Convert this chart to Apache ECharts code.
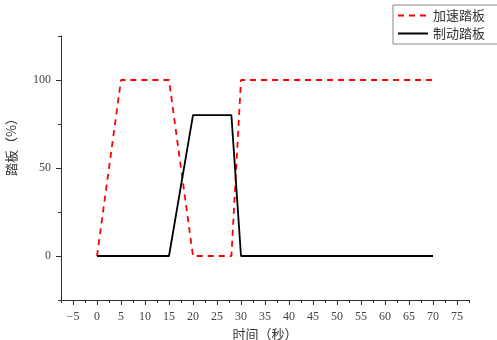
<!DOCTYPE html>
<html><head><meta charset="utf-8">
<script src="https://cdn.jsdelivr.net/npm/echarts@6/dist/echarts.min.js"></script>
<style>html,body{margin:0;padding:0;background:#fff}#c{width:497px;height:340px}</style>
</head><body><div id="c"></div>
<script>
const seriesNames = ['加速踏板', '制动踏板'];
const accelTime = [0, 5, 15, 20, 28, 30, 70];
const accelValue = [0, 100, 100, 0, 0, 100, 100];
const brakeTime = [0, 15, 20, 28, 30, 70];
const brakeValue = [0, 0, 80, 80, 0, 0];
const xMajorTicks = [-5, 0, 5, 10, 15, 20, 25, 30, 35, 40, 45, 50, 55, 60, 65, 70, 75];
const xMinorTicks = [-7.5, -2.5, 2.5, 7.5, 12.5, 17.5, 22.5, 27.5, 32.5, 37.5, 42.5, 47.5, 52.5, 57.5, 62.5, 67.5, 72.5, 77.5];
const yMajorTicks = [0, 50, 100];
const yMinorTicks = [-25, 25, 75, 125];
const xName = '时间（秒）';
const yName = '踏板（%）';

const pairs = (xs, ys) => xs.map((x, i) => [x, ys[i]]);
const labelFont = {fontFamily: 'Liberation Serif', fontSize: 12, color: '#444'};
const cjk = 'Noto Sans CJK SC';
const fmt = v => String(v).replace('-', '\u2212');

const chart = echarts.init(document.getElementById('c'));
chart.setOption({
  animation: false,
  grid: {left: 61, right: 28, top: 36, bottom: 40, containLabel: false, outerBoundsMode: 'none'},
  legend: {
    orient: 'vertical', left: 393, top: 5,
    itemWidth: 30, itemHeight: 10, itemGap: 5,
    padding: [4, 14, 4, 4],
    borderColor: '#888', borderWidth: 1, borderRadius: 0,
    itemStyle: {opacity: 0},
    textStyle: {fontFamily: cjk, fontSize: 13, color: '#333'},
    data: seriesNames
  },
  xAxis: [{
    type: 'value', min: -7.5, max: 77.5,
    axisLine: {show: true, onZero: false, lineStyle: {color: '#333', width: 1}},
    axisTick: {show: true, length: 5, customValues: xMajorTicks, lineStyle: {color: '#333'}},
    axisLabel: {customValues: xMajorTicks, margin: 11, formatter: fmt, ...labelFont},
    splitLine: {show: false},
    name: xName, nameLocation: 'middle', nameGap: 27,
    nameTextStyle: {fontFamily: cjk, fontSize: 13, color: '#333'}
  }, {
    type: 'value', min: -7.5, max: 77.5, position: 'bottom',
    axisLine: {show: false, onZero: false},
    axisTick: {show: true, length: 3, customValues: xMinorTicks, lineStyle: {color: '#333'}},
    axisLabel: {show: false}, splitLine: {show: false}
  }],
  yAxis: [{
    type: 'value', min: -25, max: 125,
    axisLine: {show: true, onZero: false, lineStyle: {color: '#333', width: 1}},
    axisTick: {show: true, length: 5, customValues: yMajorTicks, lineStyle: {color: '#333'}},
    axisLabel: {customValues: yMajorTicks, margin: 10, ...labelFont},
    splitLine: {show: false}
  }, {
    type: 'value', min: -25, max: 125, position: 'left',
    axisLine: {show: false, onZero: false},
    axisTick: {show: true, length: 3, customValues: yMinorTicks, lineStyle: {color: '#333'}},
    axisLabel: {show: false}, splitLine: {show: false}
  }],
  graphic: [{
    type: 'text', left: 5, top: 112, rotation: Math.PI / 2,
    style: {text: yName, fontFamily: cjk, fontSize: 13, fill: '#333'}
  }],
  series: [{
    name: seriesNames[0], type: 'line', symbol: 'none',
    data: pairs(accelTime, accelValue),
    lineStyle: {color: '#ff0000', width: 1.8, type: [6, 5]},
    itemStyle: {color: '#ff0000'}
  }, {
    name: seriesNames[1], type: 'line', symbol: 'none',
    data: pairs(brakeTime, brakeValue),
    lineStyle: {color: '#000', width: 1.8},
    itemStyle: {color: '#000'}
  }]
});
</script></body></html>
